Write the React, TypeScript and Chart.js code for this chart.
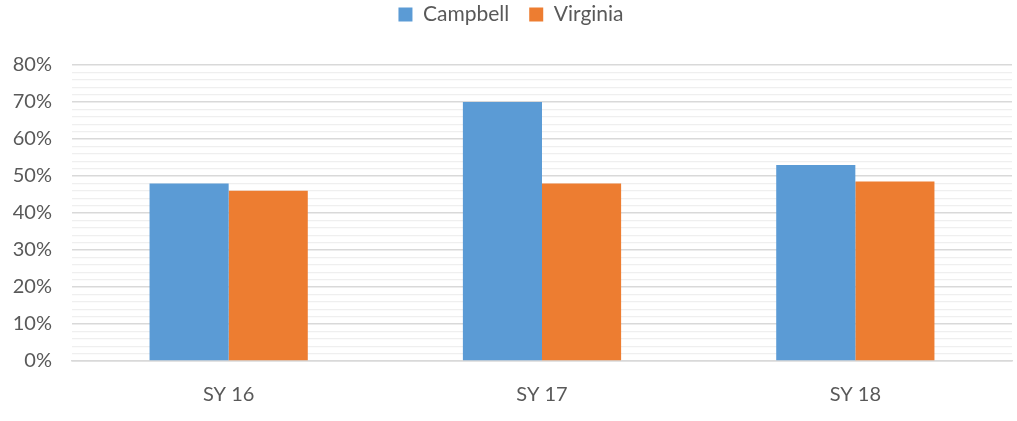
import React, { useEffect, useRef } from "react";
import { Chart, registerables } from "chart.js";

Chart.register(...registerables);

const categories = ["SY 16", "SY 17", "SY 18"];
const campbell = [48, 70, 53];
const virginia = [46, 48, 48.5];
const seriesNames = ["Campbell", "Virginia"];

const legendGap = {
  id: "legendGap",
  beforeInit(chart: any) {
    const orig = chart.legend.fit;
    chart.legend.fit = function () {
      orig.bind(this)();
      this.height += 30;
    };
  },
};

export default function App() {
  const ref = useRef<HTMLCanvasElement | null>(null);
  useEffect(() => {
    if (!ref.current) return;
    const font = "Lato, 'Open Sans', sans-serif";
    const chart = new Chart(ref.current, {
      type: "bar",
      data: {
        labels: categories,
        datasets: [
          { label: seriesNames[0], data: campbell, backgroundColor: "#5B9BD5", barPercentage: 1, categoryPercentage: 0.505 },
          { label: seriesNames[1], data: virginia, backgroundColor: "#ED7D31", barPercentage: 1, categoryPercentage: 0.505 },
        ],
      },
      options: {
        animation: false,
        responsive: false,
        maintainAspectRatio: false,
        layout: { padding: { left: 10, right: 5, top: -16, bottom: 0 } },
        plugins: {
          tooltip: { enabled: false },
          legend: {
            position: "top",
            labels: {
              boxWidth: 14,
              boxHeight: 14,
              padding: 20,
              color: "#595959",
              font: { family: font, size: 21 },
            },
          },
        },
        scales: {
          x: {
            grid: { display: false },
            border: { color: "#d9d9d9", width: 1.5 },
            ticks: { color: "#595959", font: { family: font, size: 20 }, padding: 14 },
          },
          y: {
            min: 0,
            max: 80,
            border: { display: false },
            afterFit: (scale: any) => {
              scale.width = 62;
            },
            grid: {
              color: (ctx: any) => (ctx.tick && ctx.tick.value % 10 === 0 ? "#d9d9d9" : "#efefef"),
              lineWidth: (ctx: any) => (ctx.tick && ctx.tick.value % 10 === 0 ? 1.5 : 1.3),
              drawTicks: false,
            },
            ticks: {
              stepSize: 2,
              autoSkip: false,
              padding: 20,
              color: "#595959",
              font: { family: font, size: 20 },
              callback: (v: any) => (Number(v) % 10 === 0 ? v + "%" : ""),
            },
          },
        },
      },
      plugins: [legendGap],
    });
    return () => chart.destroy();
  }, []);
  return (
    <div style={{ position: "fixed", left: 0, top: 0, width: 1017, height: 421, background: "#fff" }}>
      <canvas ref={ref} width={1017} height={421} />
    </div>
  );
}
